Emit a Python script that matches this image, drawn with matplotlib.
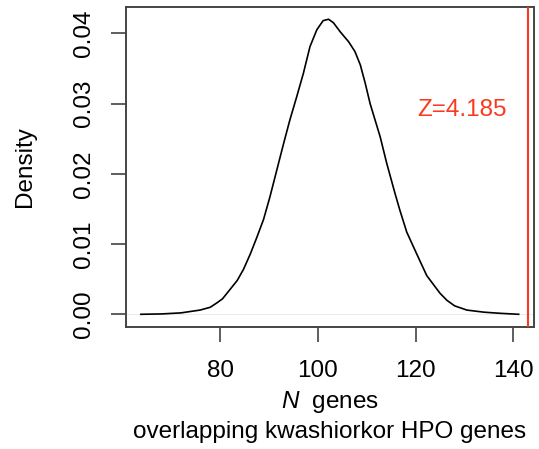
import matplotlib
matplotlib.use("Agg")
import matplotlib.pyplot as plt

plt.rcParams['font.family'] = ['Liberation Sans', 'DejaVu Sans']
plt.rcParams['mathtext.fontset'] = 'custom'
plt.rcParams['mathtext.it'] = 'Liberation Sans:italic'
plt.rcParams['mathtext.rm'] = 'Liberation Sans'

# density of N overlapping genes
n_genes = [63.8, 68, 72, 75.9, 78, 79.3, 80.5, 82.0, 83.5, 84.8, 86.2, 87.5, 88.9,
           90.2, 91.6, 93.0, 94.3, 95.7, 97.05, 98.4, 99.8, 101.1, 102.2, 103.2,
           104.6, 106.3, 107.6, 108.7, 109.7, 110.7, 111.7, 112.75, 114.1, 115.8,
           116.8, 118.2, 120.3, 122.3, 125.0, 126.4, 128, 130.5, 134, 137.3, 141.1]
density = [0.0, 0.00005, 0.0002, 0.0006, 0.0010, 0.0016, 0.0022, 0.0035, 0.0048,
           0.0064, 0.0086, 0.0109, 0.0135, 0.0167, 0.0205, 0.0243, 0.0277, 0.0310,
           0.0343, 0.0381, 0.0405, 0.0418, 0.0420, 0.0415, 0.0402, 0.0388, 0.0374,
           0.0355, 0.0329, 0.0300, 0.0277, 0.0253, 0.0215, 0.0172, 0.0148, 0.0117,
           0.0085, 0.0055, 0.0030, 0.0020, 0.0012, 0.0006, 0.0003, 0.00014, 0.0]
observed = 143.0
z_label = "Z=4.185"
x_ticks = [80, 100, 120, 140]
y_ticks = [0.00, 0.01, 0.02, 0.03, 0.04]

fig = plt.figure(figsize=(5.39, 4.49), dpi=100)
left, right, bottom, top = 0.2338, 0.9902, 0.2717, 0.9844
ax = fig.add_axes([left, bottom, right - left, top - bottom])

ax.axhline(0, color='#e6e6e6', lw=0.6, zorder=1)
ax.plot(n_genes, density, color='black', lw=1.2, solid_joinstyle='round', zorder=2)
ax.axvline(observed, color='#fa3a1e', lw=1.5, zorder=3)
ax.text(129.5, 0.0291, z_label, color='#fa3a1e', fontsize=17.5, ha='center', va='center')

ax.set_xlim(60.76, 144.18)
ax.set_ylim(-0.00181, 0.04374)
ax.set_xticks(x_ticks)
ax.set_yticks(y_ticks)
ax.set_yticklabels([f"{v:.2f}" for v in y_ticks], rotation=90, va='center')
ax.tick_params(axis='both', direction='out', length=11, width=1.1, color='#333333',
               labelsize=17.5)
ax.tick_params(axis='x', pad=13)
ax.tick_params(axis='y', pad=11)
for s in ax.spines.values():
    s.set_color('#444444')
    s.set_linewidth(1.4)

ax.set_ylabel("Density", fontsize=17.5, labelpad=27)
cx = (left + right) / 2
fig.text(cx, 1 - 401.7 / 449, r"$\it{N}$  genes", fontsize=17.5, ha='center', va='center')
fig.text(cx, 1 - 431.7 / 449, "overlapping kwashiorkor HPO genes", fontsize=17.5,
         ha='center', va='center')

fig.savefig("out.png", dpi=100)
